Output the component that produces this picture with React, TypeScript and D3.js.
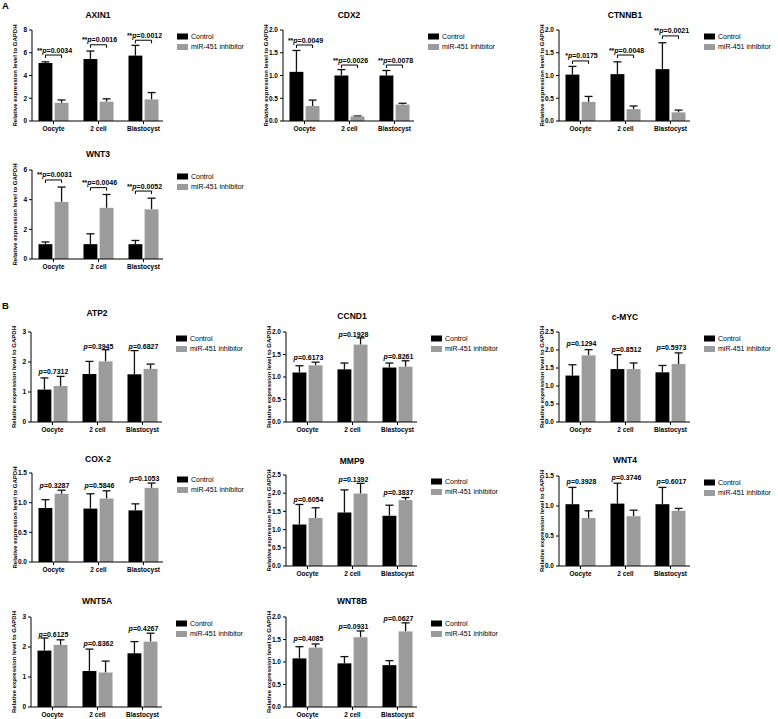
import React from "react";
import * as d3 from "d3";

const categories = ["Oocyte", "2 cell", "Blastocyst"];
const seriesNames = ["Control", "miR-451 inhibitor"];
const genes = ["AXIN1", "CDX2", "CTNNB1", "WNT3", "ATP2", "CCND1", "c-MYC", "COX-2", "MMP9", "WNT4", "WNT5A", "WNT8B"];
const yMax = [8, 2, 2, 6, 3, 2, 2.5, 1.5, 2.5, 1.5, 3, 2];
const yStep = [2, 0.5, 0.5, 2, 1, 0.5, 0.5, 0.5, 0.5, 0.5, 1, 0.5];
const tickDecimals = [0, 1, 1, 0, 0, 1, 1, 1, 1, 1, 0, 1];

const controlMean = [
  [5.1, 5.45, 5.75],
  [1.08, 1.0, 1.0],
  [1.02, 1.03, 1.14],
  [1.0, 1.0, 1.0],
  [1.08, 1.6, 1.59],
  [1.1, 1.17, 1.21],
  [1.29, 1.47, 1.38],
  [0.91, 0.9, 0.87],
  [1.14, 1.47, 1.38],
  [1.03, 1.04, 1.03],
  [1.88, 1.2, 1.79],
  [1.08, 0.97, 0.93],
];
const controlUpper = [
  [5.2, 6.15, 6.65],
  [1.55, 1.13, 1.11],
  [1.2, 1.3, 1.72],
  [1.15, 1.7, 1.25],
  [1.47, 2.02, 2.38],
  [1.25, 1.31, 1.31],
  [1.59, 1.87, 1.57],
  [1.05, 1.15, 0.98],
  [1.69, 2.09, 1.67],
  [1.31, 1.38, 1.31],
  [2.3, 1.93, 2.18],
  [1.34, 1.12, 1.03],
];
const inhibitorMean = [
  [1.6, 1.7, 1.9],
  [0.33, 0.1, 0.36],
  [0.42, 0.26, 0.19],
  [3.85, 3.45, 3.35],
  [1.2, 2.02, 1.77],
  [1.26, 1.72, 1.23],
  [1.85, 1.47, 1.61],
  [1.15, 1.07, 1.25],
  [1.32, 1.99, 1.81],
  [0.8, 0.83, 0.92],
  [2.07, 1.15, 2.18],
  [1.32, 1.55, 1.68],
];
const inhibitorUpper = [
  [1.85, 1.95, 2.5],
  [0.46, 0.11, 0.39],
  [0.54, 0.33, 0.24],
  [4.85, 4.35, 4.1],
  [1.52, 2.41, 1.93],
  [1.33, 1.87, 1.36],
  [2.01, 1.64, 1.92],
  [1.21, 1.2, 1.33],
  [1.6, 2.27, 1.88],
  [0.92, 0.93, 0.96],
  [2.24, 1.53, 2.46],
  [1.4, 1.69, 1.87],
];
const pStars = [
  ["**", "**", "**"],
  ["**", "**", "**"],
  ["*", "**", "**"],
  ["**", "**", "**"],
  ["", "", ""], ["", "", ""], ["", "", ""], ["", "", ""],
  ["", "", ""], ["", "", ""], ["", "", ""], ["", "", ""],
];
const pValues = [
  ["0.0034", "0.0016", "0.0012"],
  ["0.0049", "0.0026", "0.0078"],
  ["0.0175", "0.0048", "0.0021"],
  ["0.0031", "0.0046", "0.0052"],
  ["0.7312", "0.3945", "0.6827"],
  ["0.6173", "0.1928", "0.8261"],
  ["0.1294", "0.8512", "0.5973"],
  ["0.3287", "0.5846", "0.1053"],
  ["0.6054", "0.1392", "0.3837"],
  ["0.3928", "0.3746", "0.6017"],
  ["0.6125", "0.8362", "0.4267"],
  ["0.4085", "0.0931", "0.0627"],
];
// height (data units) of the significance bracket (panel A) or label baseline (panel B)
const annotationLevel = [
  [5.8, 6.7, 7.1],
  [1.67, 1.23, 1.23],
  [1.32, 1.45, 1.87],
  [5.33, 4.81, 4.58],
  [1.6, 2.45, 2.44],
  [1.38, 1.9, 1.4],
  [2.1, 1.94, 1.99],
  [1.25, 1.24, 1.37],
  [1.75, 2.32, 1.95],
  [1.36, 1.43, 1.36],
  [2.35, 2.02, 2.55],
  [1.46, 1.73, 1.91],
];
const hasBracket = [true, true, true, true, false, false, false, false, false, false, false, false];

// layout: axis x, plot top, plot bottom, title baseline
const layout = [
  [32, 30, 121, 18],
  [283, 30, 121, 18],
  [559, 30, 121, 18],
  [32, 170, 259, 157],
  [31, 332, 422, 316],
  [286, 332, 422, 319],
  [559, 332, 422, 320],
  [32, 473, 562, 462],
  [286, 475, 566, 464],
  [559, 476, 566, 463],
  [31, 617, 707, 604],
  [286, 617, 707, 604],
];

const FONT = "'Liberation Sans', Arial, Helvetica, sans-serif";
const COLORS = ["#000000", "#9b9b9b"];
const PLOT_W = 131;

function Panel({ i }: { i: number }) {
  const [x0, yTop, yBot, titleY] = layout[i];
  const y = d3.scaleLinear().domain([0, yMax[i]]).range([yBot, yTop]);
  const xBand = d3.scaleBand<string>().domain(categories).range([x0 - 1, x0 + 134]).paddingInner(0.333).paddingOuter(0.1667);
  const sub = d3.scaleBand<string>().domain(seriesNames).range([0, xBand.bandwidth()]).paddingInner(0.14);
  const ticks = d3.range(0, yMax[i] + 1e-9, yStep[i]);
  const fmt = d3.format(`.${tickDecimals[i]}f`);
  const means = [controlMean[i], inhibitorMean[i]];
  const uppers = [controlUpper[i], inhibitorUpper[i]];
  const capW = 8;
  return (
    <g>
      <text x={x0 + 66} y={titleY} textAnchor="middle" fontSize={8.5} fontWeight="bold">{genes[i]}</text>
      {/* y axis label */}
      <text
        transform={`translate(${x0 - 15},${(yTop + yBot) / 2}) rotate(-90)`}
        textAnchor="middle"
        fontSize={6}
        fontWeight="bold"
      >Relative expression level to GAPDH</text>
      {/* bars */}
      {categories.map((c, ci) =>
        seriesNames.map((s, si) => {
          const bx = (xBand(c) as number) + (sub(s) as number);
          const bw = sub.bandwidth();
          const cx = bx + bw / 2;
          return (
            <g key={c + s}>
              <line x1={cx} x2={cx} y1={y(means[si][ci])} y2={y(uppers[si][ci])} stroke="#111" strokeWidth={1.3} />
              <line x1={cx - capW / 2} x2={cx + capW / 2} y1={y(uppers[si][ci])} y2={y(uppers[si][ci])} stroke="#111" strokeWidth={1.3} />
              <rect x={bx} y={y(means[si][ci])} width={bw} height={yBot - y(means[si][ci])} fill={COLORS[si]} />
            </g>
          );
        })
      )}
      {/* axes */}
      <line x1={x0} x2={x0} y1={yTop} y2={yBot} stroke="#000" strokeWidth={1} />
      <line x1={x0} x2={x0 + PLOT_W} y1={yBot} y2={yBot} stroke="#000" strokeWidth={1} />
      {ticks.map((t) => (
        <g key={t}>
          <line x1={x0 - 3} x2={x0} y1={y(t)} y2={y(t)} stroke="#000" strokeWidth={1} />
          <text x={x0 - 5} y={y(t)} dy="0.35em" textAnchor="end" fontSize={6.5} fontWeight="bold">{fmt(t)}</text>
        </g>
      ))}
      {categories.map((c) => {
        const cx = (xBand(c) as number) + xBand.bandwidth() / 2;
        return (
          <g key={c}>
            <line x1={cx} x2={cx} y1={yBot} y2={yBot + 3} stroke="#000" strokeWidth={1} />
            <text x={cx} y={yBot + 10} textAnchor="middle" fontSize={6.5} fontWeight="bold">{c}</text>
          </g>
        );
      })}
      {/* annotations */}
      {categories.map((c, ci) => {
        const lvl = y(annotationLevel[i][ci]);
        const bx = xBand(c) as number;
        const cx = bx + xBand.bandwidth() / 2;
        const c1 = bx + (sub(seriesNames[0]) as number) + sub.bandwidth() / 2;
        const c2 = bx + (sub(seriesNames[1]) as number) + sub.bandwidth() / 2;
        return (
          <g key={"a" + c}>
            {hasBracket[i] && (
              <path d={`M${c1},${lvl + 3}V${lvl}H${c2}V${lvl + 3}`} fill="none" stroke="#000" strokeWidth={1} />
            )}
            <text x={cx + 1} y={hasBracket[i] ? lvl - 2.5 : lvl} textAnchor="middle" fontSize={7} fontWeight="bold">
              {pStars[i][ci]}
              <tspan fontStyle="italic">p</tspan>
              {"=" + pValues[i][ci]}
            </text>
          </g>
        );
      })}
      {/* legend */}
      {seriesNames.map((s, si) => (
        <g key={s}>
          <rect x={x0 + 145} y={yTop + 3.5 + si * 10.5} width={11} height={6} fill={COLORS[si]} />
          <text x={x0 + 159} y={yTop + 6.5 + si * 10.5} dy="0.35em" fontSize={7}>{s}</text>
        </g>
      ))}
    </g>
  );
}

export default function App() {
  return (
    <svg
      width={778}
      height={719}
      style={{ position: "absolute", left: 0, top: 0, background: "#fff" }}
      fontFamily={FONT}
    >
      <rect width={778} height={719} fill="#fff" />
      <text x={2} y={9} fontSize={9.5} fontWeight="bold">A</text>
      <text x={2} y={309} fontSize={9.5} fontWeight="bold">B</text>
      {genes.map((g, i) => (
        <Panel key={g} i={i} />
      ))}
    </svg>
  );
}
